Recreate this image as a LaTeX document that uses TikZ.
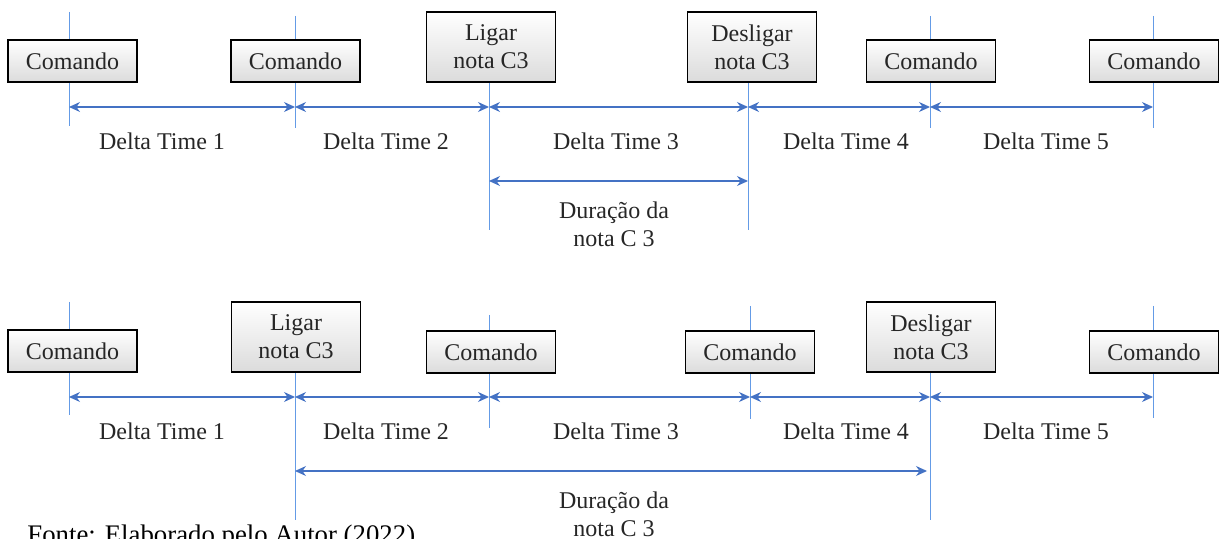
\documentclass[tikz,border=0pt]{standalone}
\usepackage{fontspec}
\setmainfont{Liberation Serif}
\usetikzlibrary{arrows.meta}

\definecolor{linha}{RGB}{100,155,230}
\definecolor{seta}{RGB}{68,114,196}
\definecolor{texto}{RGB}{38,38,38}

\tikzset{
  caixa/.style={draw=black, line width=0.7pt, top color=white, bottom color=black!14,
    text=texto, minimum width=64.5pt, minimum height=21pt, inner sep=0pt, align=center,
    font=\fontsize{12}{14}\selectfont},
  caixadupla/.style={caixa, minimum height=35pt},
  marca/.style={draw=linha, line width=0.5pt},
  dt/.style={draw=seta, line width=0.6pt,
    {Stealth[length=5.5pt,width=5pt]}-{Stealth[length=5.5pt,width=5pt]}},
  rotulo/.style={text=texto, align=center, font=\fontsize{12}{14}\selectfont}
}

\begin{document}
\begin{tikzpicture}[x=0.5pt,y=-0.5pt]
   \useasboundingbox (0,0) rectangle (1221,539);

   % primeira linha do tempo
   \foreach \x/\ya/\yb [count=\i] in {69/12/126,295/16/128,489/82/230,748/82/230,930/16/128,1153/16/128}
   {
     \coordinate (ta\i) at (\x,\ya);
     \coordinate (tb\i) at (\x,\yb);
     \draw[marca] (ta\i) -- (tb\i);
     \coordinate (tp\i) at (\x,107);
   }
   \node[caixa] (t1) at (72.5,61) {Comando};
   \node[caixa] (t2) at (295.5,61) {Comando};
   \node[caixadupla] (t3) at (491,47) {Ligar\\nota C3};
   \node[caixadupla] (t4) at (752,47) {Desligar\\nota C3};
   \node[caixa] (t5) at (931,61) {Comando};
   \node[caixa] (t6) at (1154,61) {Comando};
   \foreach \i/\j in {1/2,2/3,3/4,4/5,5/6}
     \draw[dt] (tp\i) -- (tp\j);
   \foreach \x [count=\i] in {162,386,616,846,1046}
     \node[rotulo] (td\i) at (\x,141) {Delta Time \i};
   \coordinate (tc1) at (489,181);
   \coordinate (tc2) at (748,181);
   \draw[dt] (tc1) -- (tc2);
   \node[rotulo] (tdur) at (614,224.5) {Duração da\\nota C 3};

   % segunda linha do tempo
   \foreach \x/\ya/\yb [count=\i] in {69/302/415,295/372/520,489/315/428,750/306/419,930/372/520,1153/306/418}
   {
     \coordinate (ba\i) at (\x,\ya);
     \coordinate (bb\i) at (\x,\yb);
     \draw[marca] (ba\i) -- (bb\i);
     \coordinate (bp\i) at (\x,397);
   }
   \node[caixa] (b1) at (72.5,351) {Comando};
   \node[caixadupla] (b2) at (296,337) {Ligar\\nota C3};
   \node[caixa] (b3) at (491,352) {Comando};
   \node[caixa] (b4) at (750,352) {Comando};
   \node[caixadupla] (b5) at (931,337) {Desligar\\nota C3};
   \node[caixa] (b6) at (1154,352) {Comando};
   \foreach \i/\j in {1/2,2/3,3/4,4/5,5/6}
     \draw[dt] (bp\i) -- (bp\j);
   \foreach \x [count=\i] in {162,386,616,846,1046}
     \node[rotulo] (bd\i) at (\x,431) {Delta Time \i};
   \coordinate (bc1) at (295,471);
   \coordinate (bc2) at (927,471);
   \draw[dt] (bc1) -- (bc2);
   \node[rotulo] (bdur) at (614,514) {Duração da\\nota C 3};

   \node[anchor=base west, inner sep=0pt, font=\fontsize{13.4}{16}\selectfont] (fonte) at (27,544)
     {Fonte: Elaborado pelo Autor (2022)};
\end{tikzpicture}
\end{document}
